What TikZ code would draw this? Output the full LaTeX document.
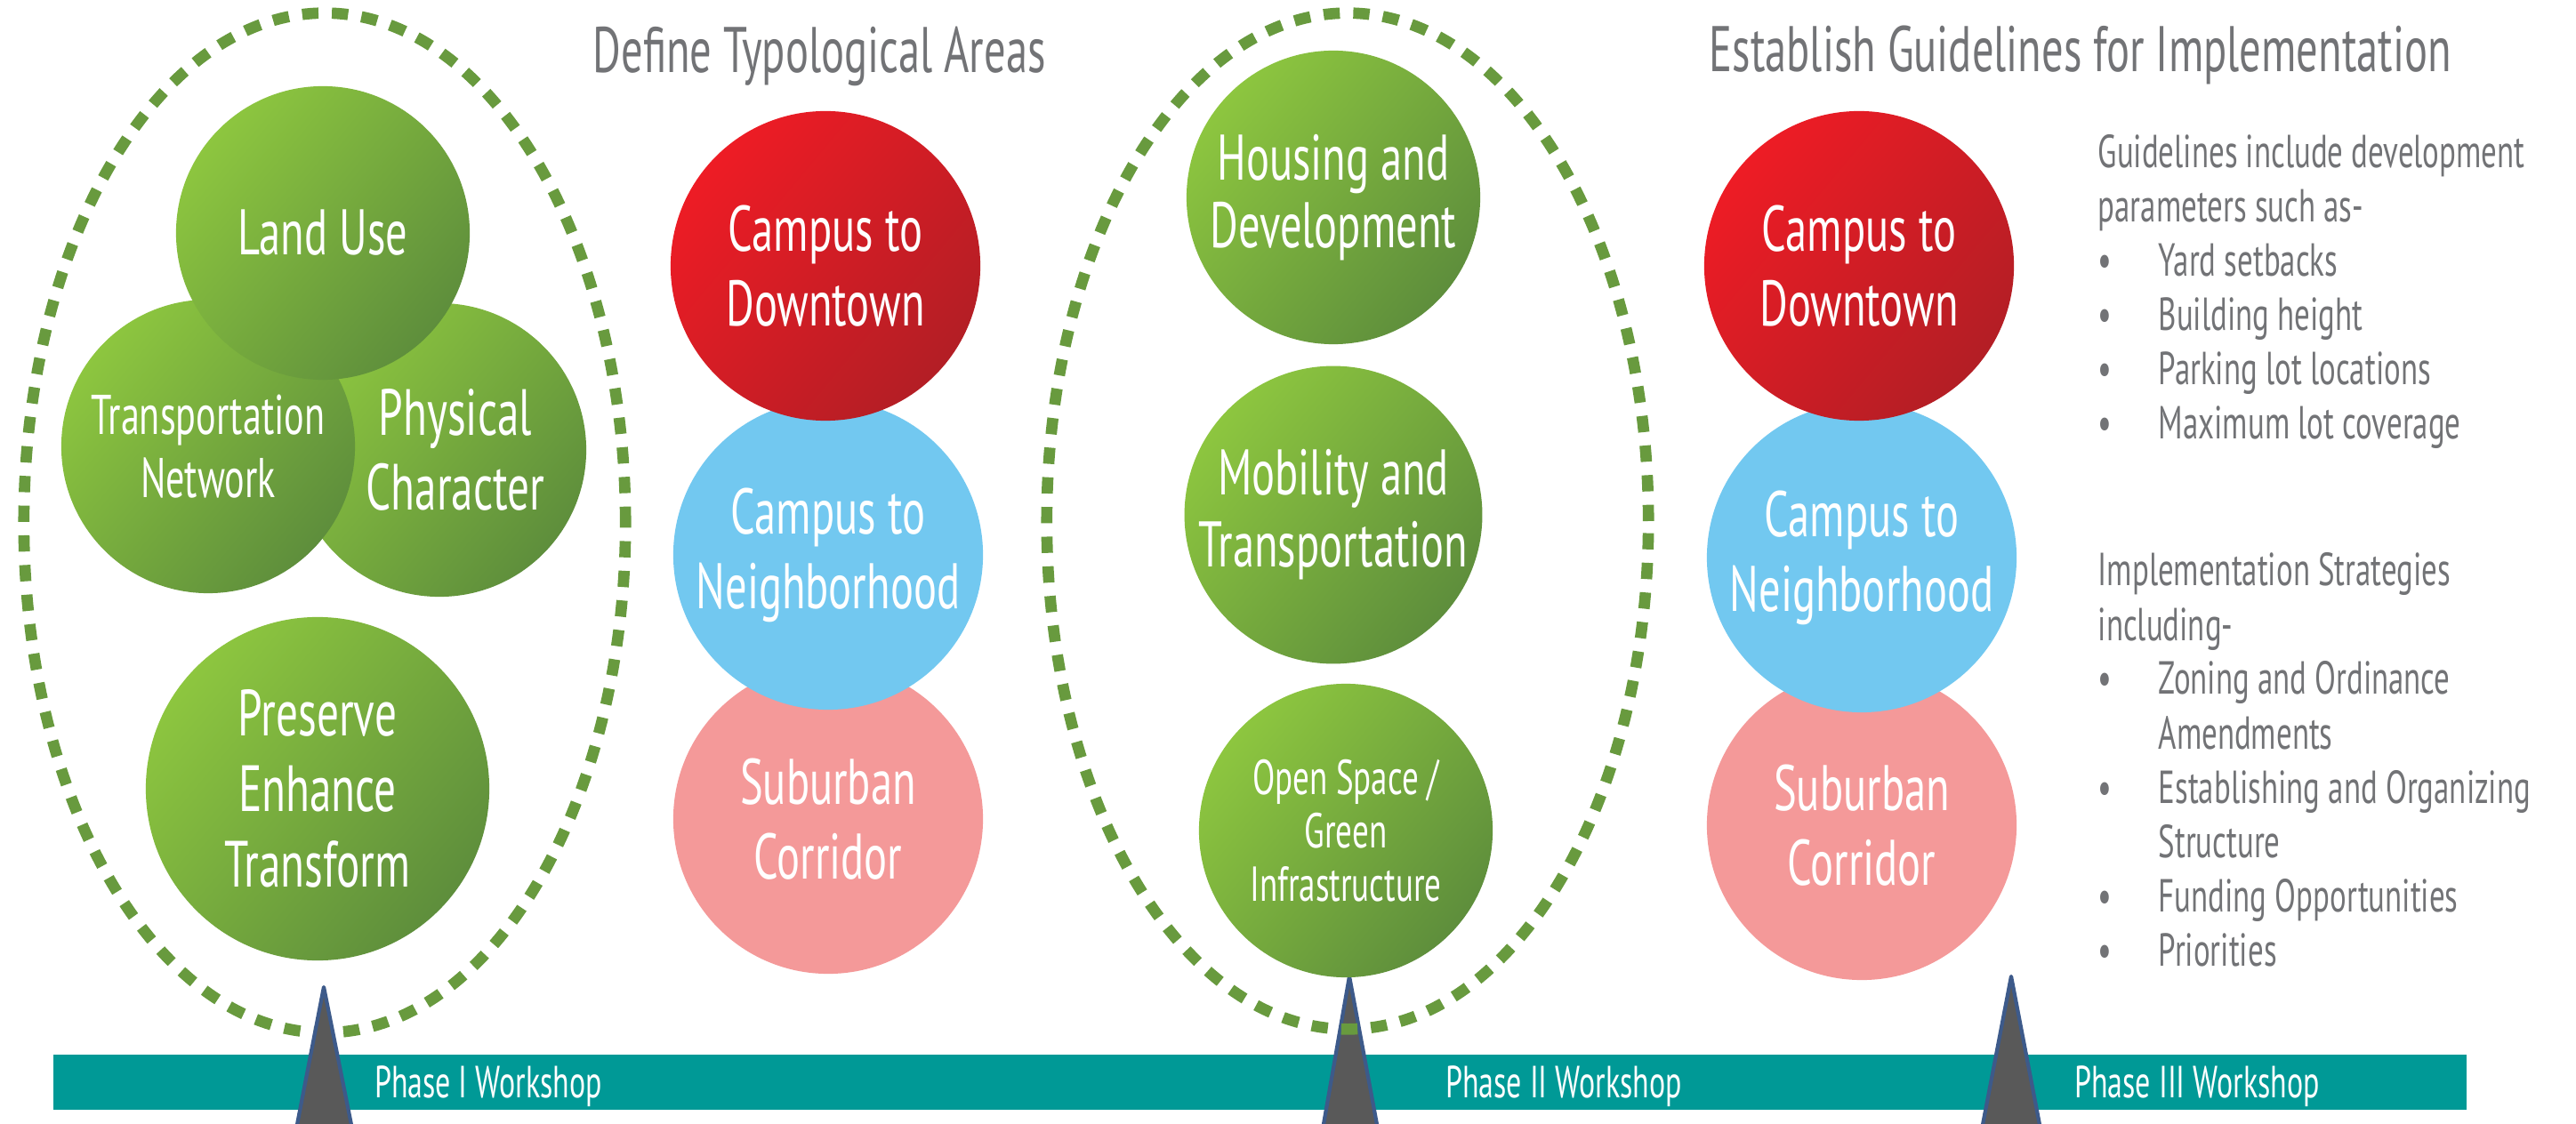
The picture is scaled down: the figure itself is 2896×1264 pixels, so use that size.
\documentclass[tikz,border=0pt]{standalone}
\usepackage{fontspec}
\setmainfont{PT Sans}[FakeStretch=0.67]
\definecolor{gL}{HTML}{8DC63F}
\definecolor{gM}{HTML}{84BD41}
\definecolor{gD}{HTML}{5E8E3C}
\definecolor{rL}{HTML}{EE1C25}
\definecolor{rM}{HTML}{E31D26}
\definecolor{rD}{HTML}{B31E25}
\definecolor{cblue}{HTML}{72C8F0}
\definecolor{cpink}{HTML}{F49999}
\definecolor{dashg}{HTML}{689A3E}
\definecolor{bart}{HTML}{009996}
\definecolor{txtg}{HTML}{727376}
\definecolor{trif}{HTML}{595959}
\definecolor{trie}{HTML}{3D5A8A}
\newcommand\fsz[2]{\fontsize{#1}{#2}\selectfont}
\newcommand\bl[1]{\makebox[0.68cm][l]{\textbullet}#1}
\begin{document}
\begin{tikzpicture}[x=0.01cm,y=-0.01cm,
  gcirc/.style={circle,inner sep=0pt,text=white,align=center,
    top color=gL,middle color=gM,bottom color=gD,shading angle=50},
  rcirc/.style={circle,inner sep=0pt,text=white,align=center,
    top color=rL,middle color=rM,bottom color=rD,shading angle=50},
  bcirc/.style={circle,inner sep=0pt,text=white,align=center,fill=cblue},
  pcirc/.style={circle,inner sep=0pt,text=white,align=center,fill=cpink},
  ring/.style={draw=dashg,line width=3.6pt,dash pattern=on 5.2pt off 4.3pt},
  tri/.style={fill=trif,draw=trie,line width=1.2pt,line join=round},
  title/.style={anchor=base west,inner sep=0pt,text=txtg,font=\fsz{20.6}{24}},
  rt/.style={anchor=base west,inner sep=0pt,text=txtg,font=\fsz{14.8}{17}},
  plab/.style={anchor=base,inner sep=0pt,text=white,font=\fsz{14.4}{16}},
  big/.style={font=\fsz{20.6}{23.9}}
]
\useasboundingbox (0,0) rectangle (2896,1264);
\fill[white] (0,0) rectangle (2896,1264);

% bottom bar
\fill[bart] (60,1186) rectangle (2773,1248);

% left ring and triangle I
\draw[ring] (365,588) ellipse [x radius=3.38cm, y radius=5.73cm];
\draw[tri] (364,1110) -- (396,1270) -- (333,1270) -- cycle;

% middle ring drawn over triangle II
\draw[tri] (1517,1098) -- (1549,1270) -- (1487,1270) -- cycle;
\draw[ring] (1515,586) ellipse [x radius=3.38cm, y radius=5.71cm];
\draw[tri] (2261,1098) -- (2294,1270) -- (2228,1270) -- cycle;

% phase labels
\node[plab] (p1) at (549,1234) {Phase I Workshop};
\node[plab] (p2) at (1758,1234) {Phase II Workshop};
\node[plab] (p3) at (2470,1234) {Phase III Workshop};

% titles
\node[title] (t1) at (666,82) {Define Typological Areas};
\node[title] (t2) at (1921,81) {Establish Guidelines for Implementation};

% left cluster
\node[gcirc,minimum size=3.30cm,font=\fsz{20.9}{23.9}] (pc) at (494,506) {\hspace*{0.36cm}Physical\\\hspace*{0.36cm}Character};
\node[gcirc,minimum size=3.30cm,font=\fsz{17.9}{20.2}] (tn) at (234,502) {Transportation\\Network};
\node[gcirc,minimum size=3.30cm,big] (lu) at (363,262) {Land Use};
\node[gcirc,minimum size=3.86cm,font=\fsz{20.9}{24.2}] (pet) at (357,887) {Preserve\\Enhance\\Transform};

% left typology column
\node[pcirc,minimum size=3.48cm,big] (sc1) at (931,921) {Suburban\\Corridor};
\node[bcirc,minimum size=3.48cm,big] (cn1) at (931,624) {Campus to\\Neighborhood};
\node[rcirc,minimum size=3.48cm,big] (cd1) at (928,299) {Campus to\\Downtown};

% middle column
\node[gcirc,minimum size=3.30cm,font=\fsz{20.6}{21.6}] (hd) at (1499,222) {Housing and\\Development};
\node[gcirc,minimum size=3.30cm,font=\fsz{20.6}{23}] (mt) at (1499,579) {Mobility and\\Transportation};
\node[gcirc,minimum size=3.30cm,font=\fsz{15.7}{17.1}] (os) at (1513,934) {Open Space /\\Green\\Infrastructure};

% right typology column
\node[pcirc,minimum size=3.48cm,big] (sc2) at (2093,928) {Suburban\\Corridor};
\node[bcirc,minimum size=3.48cm,big] (cn2) at (2093,627) {Campus to\\Neighborhood};
\node[rcirc,minimum size=3.48cm,big] (cd2) at (2090,299) {Campus to\\Downtown};

% right text
\node[rt] (g1) at (2358,189) {Guidelines include development};
\node[rt] (g2) at (2358,250) {parameters such as-};
\node[rt] (g3) at (2358,311) {\bl{Yard setbacks}};
\node[rt] (g4) at (2358,372) {\bl{Building height}};
\node[rt] (g5) at (2358,433) {\bl{Parking lot locations}};
\node[rt] (g6) at (2358,494) {\bl{Maximum lot coverage}};
\node[rt] (s1) at (2358,659) {Implementation Strategies};
\node[rt] (s2) at (2358,720) {including-};
\node[rt] (s3) at (2358,781) {\bl{Zoning and Ordinance}};
\node[rt] (s4) at (2426,842) {Amendments};
\node[rt] (s5) at (2358,903) {\bl{Establishing and Organizing}};
\node[rt] (s6) at (2426,964) {Structure};
\node[rt] (s7) at (2358,1025) {\bl{Funding Opportunities}};
\node[rt] (s8) at (2358,1086) {\bl{Priorities}};
\end{tikzpicture}
\end{document}
